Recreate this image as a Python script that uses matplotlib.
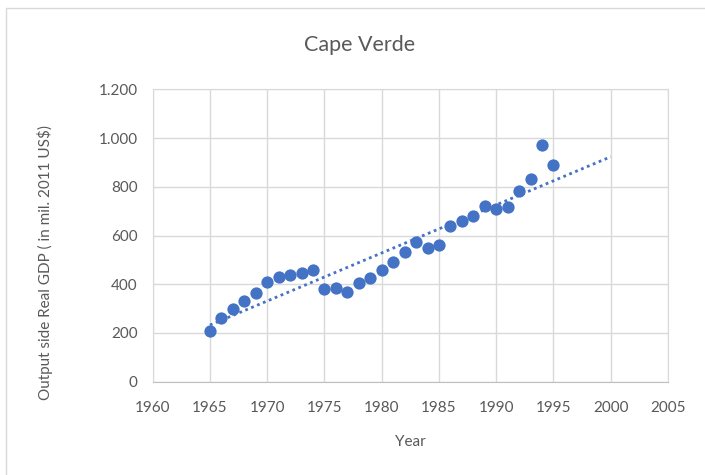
import matplotlib

matplotlib.use("Agg")
import matplotlib.pyplot as plt  # noqa: E402
import numpy as np  # noqa: E402
from matplotlib.patches import Rectangle  # noqa: E402
from matplotlib.ticker import FuncFormatter  # noqa: E402

# data (Cape Verde, output-side real GDP)
years = list(range(1965, 1996))
gdp = [209, 263, 297, 331, 366, 411, 431, 438, 448, 459,
       379, 384, 370, 404, 425, 459, 493, 534, 575, 548,
       561, 637, 661, 678, 722, 708, 716, 783, 831, 972, 890]
trend_end = 2000

BLUE = "#4472C4"
GRID = "#D9D9D9"
TEXT = "#595959"

plt.rcParams["font.family"] = ["Lato", "DejaVu Sans"]

fig = plt.figure(figsize=(7.05, 4.75), dpi=100)
fig.patches.append(Rectangle((6 / 705, -0.1), 1.2, 1 - 8 / 475 + 0.1,
                             transform=fig.transFigure, fill=False,
                             edgecolor=GRID, linewidth=1.0))
ax = fig.add_axes([0.2166, 0.1964, 0.7309, 0.6156])

ax.scatter(years, gdp, s=78, color=BLUE, zorder=3, linewidths=0)

# linear trendline, forecast forward to 2000
slope, icpt = np.polyfit(years, gdp, 1)
tx = np.array([years[0], trend_end])
ax.plot(tx, slope * tx + icpt, color=BLUE, linewidth=2.0,
        linestyle=(0, (1, 1.3)), dash_capstyle="butt", zorder=2)

ax.set_xlim(1960, 2005)
ax.set_ylim(0, 1200)
ax.set_xticks(range(1960, 2006, 5))
ax.set_yticks(range(0, 1201, 200))
ax.yaxis.set_major_formatter(FuncFormatter(lambda v, _: f"{int(v):,}".replace(",", ".")))
ax.grid(True, color=GRID, linewidth=1.0)
ax.set_axisbelow(True)
for s in ax.spines.values():
    s.set_color(GRID)
ax.spines["bottom"].set_color("#BFBFBF")
ax.tick_params(length=0, colors=TEXT, labelsize=11)
ax.tick_params(axis="x", pad=14)
ax.tick_params(axis="y", pad=11)

fig.text(0.51, 1 - 45 / 475, "Cape Verde", ha="center", va="center",
         fontsize=15.5, color=TEXT)
fig.text(410 / 705, 1 - 442 / 475, "Year", ha="center", va="center",
         fontsize=11, color=TEXT)
fig.text(45 / 705, 1 - 263 / 475, "Output side Real GDP ( in mil. 2011 US$)",
         ha="center", va="center", rotation=90, fontsize=11, color=TEXT)

fig.savefig("out.png", dpi=100, facecolor="white")
